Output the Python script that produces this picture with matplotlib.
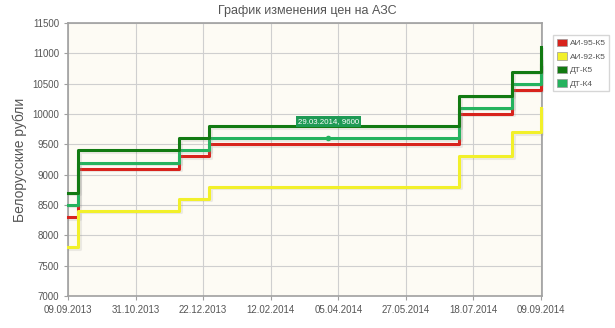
import matplotlib
matplotlib.use('Agg')
import matplotlib.pyplot as plt
import matplotlib.dates as mdates
import matplotlib.patheffects as pe
from matplotlib.patches import Patch
import numpy as np

# price change dates and prices (Belarusian rubles)
dates = ['2013-09-09', '2013-09-17', '2013-12-04', '2013-12-27',
         '2014-07-08', '2014-08-18', '2014-09-09']
ai95 = [8300, 9100, 9300, 9500, 10000, 10400, 10800]
ai92 = [7800, 8400, 8600, 8800, 9300, 9700, 10100]
dt_k5 = [8700, 9400, 9600, 9800, 10300, 10700, 11100]
dt_k4 = [8500, 9200, 9400, 9600, 10100, 10500, 10900]

series_names = ['АИ-95-К5', 'АИ-92-К5', 'ДТ-К5', 'ДТ-К4']
series_colors = ['#d8231c', '#f2f02a', '#127a12', '#25b35e']

tick_labels = ['09.09.2013', '31.10.2013', '22.12.2013', '12.02.2014',
               '05.04.2014', '27.05.2014', '18.07.2014', '09.09.2014']

tip_date = '2014-03-29'
tip_value = 9600

x = mdates.datestr2num(dates)

fig = plt.figure(figsize=(6.15, 3.28), dpi=100)
fig.patch.set_facecolor('white')
ax = fig.add_axes([0.1106, 0.0976, 0.7707, 0.8323])
ax.set_facecolor('#fdfbf4')

shadow = [pe.SimpleLineShadow(offset=(1, -1), alpha=0.15, shadow_color='#888888'), pe.Normal()]
# dark green drawn last so it sits on top like in the original
order = [0, 1, 3, 2]
all_vals = [ai95, ai92, dt_k5, dt_k4]
for i in order:
    ax.step(x, all_vals[i], where='post', color=series_colors[i], lw=2.2,
            path_effects=shadow, zorder=3, clip_on=False)

ax.set_xlim(x[0], x[-1] + 0.8)
ax.set_ylim(7000, 11500)
ax.set_yticks(np.arange(7000, 11501, 500))
xt = np.linspace(x[0], x[-1], len(tick_labels))
ax.set_xticks(xt)
ax.set_xticklabels(tick_labels)

ax.grid(True, color='#cfcfcf', lw=0.8)
ax.set_axisbelow(True)
for s in ax.spines.values():
    s.set_color('#a0a0a0')
    s.set_linewidth(1.2)
ax.tick_params(colors='#a0a0a0', labelcolor='#555555', labelsize=7, length=3)
for lab in ax.get_xticklabels() + ax.get_yticklabels():
    lab.set_family('Liberation Sans')

ax.set_ylabel('Белорусские рубли', fontsize=10, color='#555555',
              family='Liberation Sans', labelpad=4)
fig.text(0.5, 0.965, 'График изменения цен на АЗС', ha='center', va='center',
         fontsize=9, color='#555555', family='Liberation Sans')

# tooltip on DT-K4
tx = mdates.datestr2num(tip_date)
ax.plot([tx], [tip_value], 'o', ms=3, color='#25b35e', zorder=4)
ax.annotate('29.03.2014, 9600', (tx, tip_value), xytext=(0, 12),
            textcoords='offset points', ha='center', va='center',
            fontsize=5.7, color='white', family='Liberation Sans', zorder=5,
            bbox=dict(boxstyle='square,pad=0.3', fc='#1e9a55', ec='none'))

handles = [Patch(fc=c, ec='#999999', lw=0.5) for c in series_colors]
leg = fig.legend(handles, series_names, loc='upper left',
                 bbox_to_anchor=(0.893, 0.905),
                 prop={'family': 'Liberation Sans', 'size': 6},
                 frameon=True, fancybox=False, edgecolor='#cccccc',
                 handlelength=1.2, handleheight=1.0, labelspacing=0.6,
                 handletextpad=0.4, borderpad=0.4)
for t in leg.get_texts():
    t.set_color('#555555')

fig.savefig('out.png', dpi=100)
